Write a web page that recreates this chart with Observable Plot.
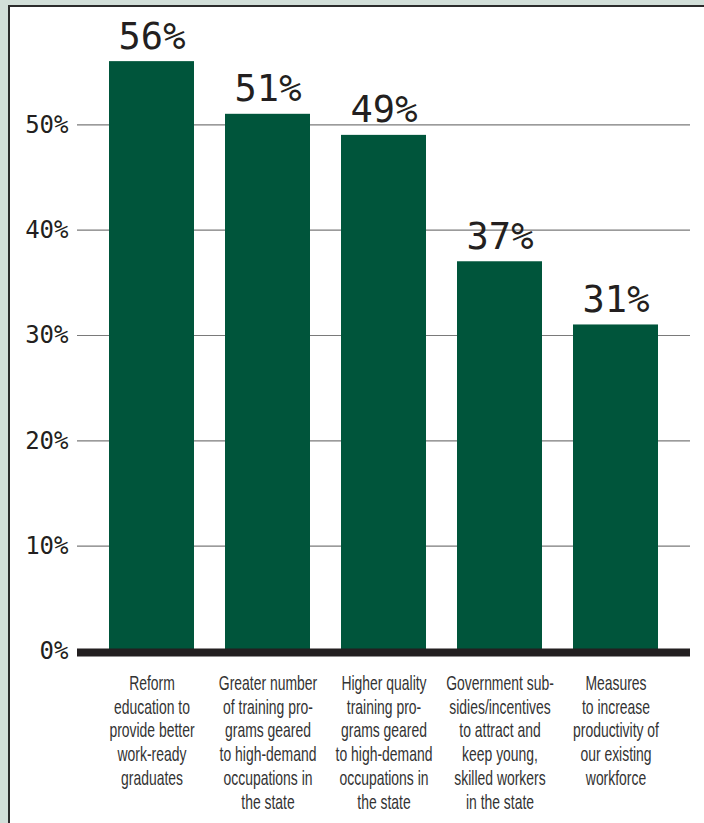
<!DOCTYPE html>
<html>
<head>
<meta charset="utf-8">
<script src="https://cdn.jsdelivr.net/npm/d3@7"></script>
<script src="https://cdn.jsdelivr.net/npm/@observablehq/plot@0.6"></script>
<style>
  html, body { margin: 0; padding: 0; width: 704px; height: 823px; overflow: hidden; background: #d2dfd9; }
  #panel { position: absolute; left: 8px; top: 5px; width: 720px; height: 840px; background: #fff; border: 2px solid #2b2b2b; box-sizing: border-box; }
  #chart { position: absolute; left: 0; top: 0; }
</style>
</head>
<body>
<div id="panel"></div>
<div id="chart"></div>
<script>
const categories = [
  "Reform\neducation to\nprovide better\nwork-ready\ngraduates",
  "Greater number\nof training pro-\ngrams geared\nto high-demand\noccupations in\nthe state",
  "Higher quality\ntraining pro-\ngrams geared\nto high-demand\noccupations in\nthe state",
  "Government sub-\nsidies/incentives\nto attract and\nkeep young,\nskilled workers\nin the state",
  "Measures\nto increase\nproductivity of\nour existing\nworkforce"
];
const values = [56, 51, 49, 37, 31];
const yTicks = [0, 10, 20, 30, 40, 50];
const gridTicks = [10, 20, 30, 40, 50];

const data = categories.map((c, i) => ({cat: c, value: values[i]}));

const chart = Plot.plot({
  width: 704,
  height: 823,
  marginLeft: 77,
  marginRight: 14,
  marginTop: 19,
  marginBottom: 172,
  style: {background: "transparent", color: "#231f20", overflow: "visible"},
  x: {domain: categories, paddingInner: 0.27, paddingOuter: 0.266, axis: null},
  y: {domain: [0, 60], axis: null},
  marks: [
    Plot.ruleY(gridTicks, {stroke: "#7a7a7a", strokeWidth: 1.2}),
    Plot.barY(data, {x: "cat", y: "value", fill: "#00553b"}),
    Plot.ruleY([0], {stroke: "#231f20", strokeWidth: 8, dy: 1}),
    Plot.axisY({ticks: yTicks, tickSize: 0, tickPadding: 9, tickFormat: d => d + "%", fontSize: 24, fontFamily: "DejaVu Sans Mono", label: null}),
    Plot.text(data, {x: "cat", y: "value", text: d => d.value + "%", lineAnchor: "bottom", dy: -13, fontSize: 37, fontFamily: "DejaVu Sans Mono", fill: "#231f20"}),
    Plot.text(data, {x: "cat", y: 0, text: "cat", lineAnchor: "top", dy: 21, fontSize: 20.5, lineHeight: 1.17, fontFamily: "'Liberation Sans', Arial, sans-serif", fill: "#333"})
  ]
});
document.getElementById("chart").appendChild(chart);
// condense the category labels horizontally (the reference uses a condensed face)
const textGroups = chart.querySelectorAll("g[aria-label='text']");
const labelGroup = textGroups[textGroups.length - 1];
labelGroup.querySelectorAll("text").forEach(t => {
  const tr = t.getAttribute("transform") || "";
  t.setAttribute("transform", tr + " scale(0.68,1)");
});
</script>
</body>
</html>
